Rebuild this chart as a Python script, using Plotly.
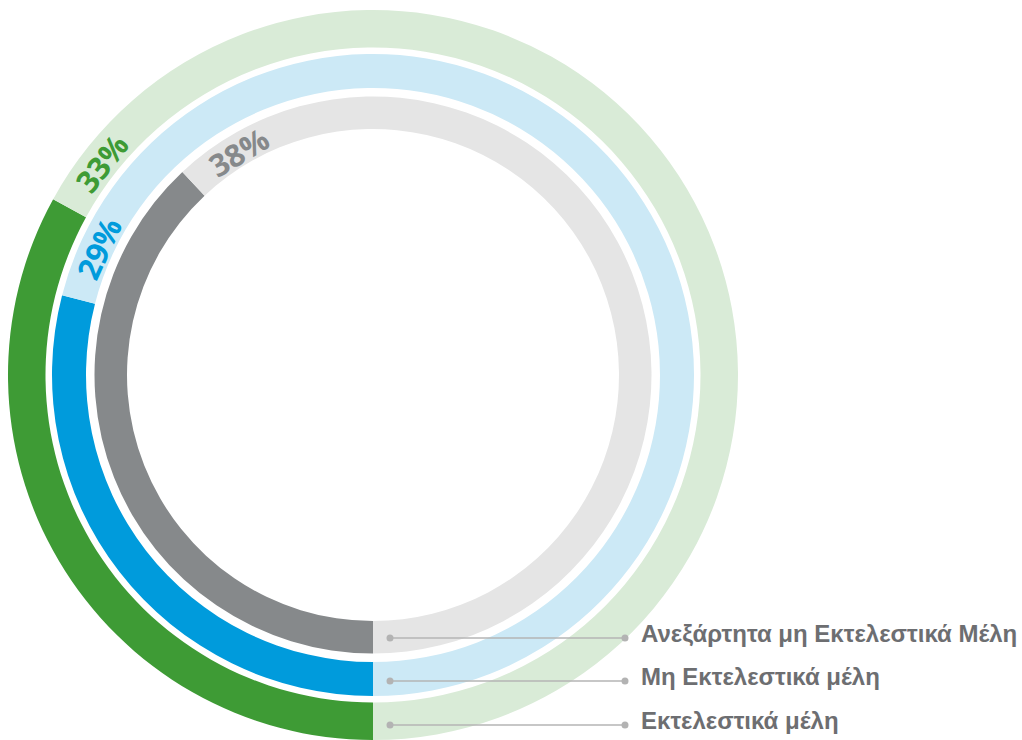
import math
import plotly.graph_objects as go

# ---- data ----
labels = ["Εκτελεστικά μέλη", "Μη Εκτελεστικά μέλη", "Ανεξάρτητα μη Εκτελεστικά Μέλη"]
percents = [33, 29, 38]
dark_colors = ["#3e9b35", "#009bdc", "#86898b"]
light_colors = ["#d9ebd7", "#cce9f6", "#e5e5e5"]

# ---- layout constants (pixels) ----
W, H = 1022, 740
cx, cy = 373, 375
outer_r = [365, 321, 278.5]
inner_r = [327.5, 287, 246]
leader_y = [725, 681, 638]
leader_x0, leader_x1 = 390, 625
label_x = 639

fig = go.Figure()

for lab, p, dc, lc, ro, ri in zip(labels, percents, dark_colors, light_colors, outer_r, inner_r):
    fig.add_trace(go.Pie(
        values=[p, 100 - p],
        labels=[lab, lab + " (rest)"],
        marker=dict(colors=[dc, lc], line=dict(width=0)),
        hole=ri / ro,
        sort=False,
        direction="clockwise",
        rotation=180,
        textinfo="none",
        hoverinfo="skip",
        showlegend=False,
        domain=dict(x=[(cx - ro) / W, (cx + ro) / W],
                    y=[(H - cy - ro) / H, (H - cy + ro) / H]),
    ))

# invisible pixel-space axes for overlays
fig.add_trace(go.Scatter(x=[0, W], y=[0, H], mode="markers",
                         marker=dict(opacity=0), hoverinfo="skip", showlegend=False))

annotations = []
shapes = []
arc_offset = 55
for lab, p, dc, ro, ri, ly in zip(labels, percents, dark_colors, outer_r, inner_r, leader_y):
    r = (ro + ri) / 2 - 2
    theta_end = -90 - 360 * p / 100
    theta = math.radians(theta_end) - arc_offset / r
    tx = cx + r * math.cos(theta)
    ty = cy - r * math.sin(theta)
    tangle = 90 - math.degrees(theta) % 360
    annotations.append(dict(
        x=tx, y=ty, xref="x", yref="y", text=f"{p}%", showarrow=False,
        textangle=tangle, xanchor="center", yanchor="middle",
        font=dict(family="Open Sans", size=31, color=dc, weight=700),
    ))
    # leader line with dots
    shapes.append(dict(type="line", xref="x", yref="y", x0=leader_x0, x1=leader_x1,
                       y0=ly, y1=ly, line=dict(color="#b5b5b5", width=1.5), layer="above"))
    for xx in (leader_x0, leader_x1):
        shapes.append(dict(type="circle", xref="x", yref="y", x0=xx - 3.5, x1=xx + 3.5,
                           y0=ly - 3.5, y1=ly + 3.5, fillcolor="#b3b3b3",
                           line=dict(width=0), layer="above"))
    annotations.append(dict(
        x=label_x, y=ly - 5, xref="x", yref="y", text=f"<b>{lab}</b>", showarrow=False,
        xanchor="left", yanchor="middle",
        font=dict(family="Liberation Sans, Arial", size=24, color="#6d6e71"),
    ))

fig.update_layout(
    width=W, height=H,
    margin=dict(l=0, r=0, t=0, b=0),
    paper_bgcolor="white", plot_bgcolor="white",
    xaxis=dict(range=[0, W], visible=False, fixedrange=True),
    yaxis=dict(range=[H, 0], visible=False, fixedrange=True),
    annotations=annotations,
    shapes=shapes,
    showlegend=False,
)

fig.write_html("out.html")
